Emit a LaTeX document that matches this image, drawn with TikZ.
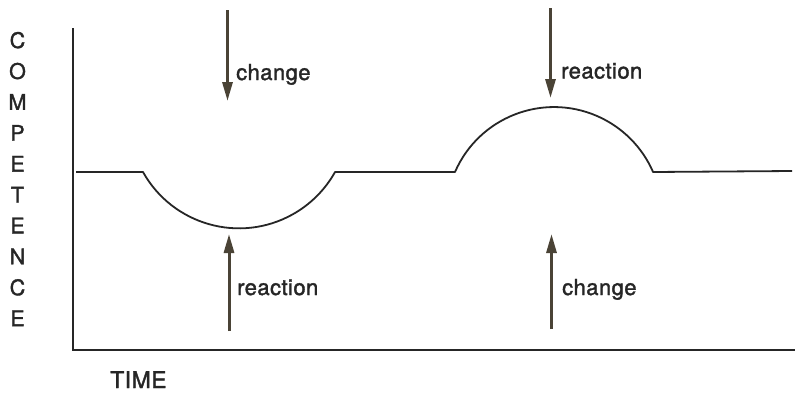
\documentclass[tikz,border=0pt]{standalone}
\usepackage{fontspec}
\setmainfont{TeX Gyre Heros}[FakeBold=1.6, LetterSpace=2]
\usetikzlibrary{arrows.meta}
\definecolor{ink}{HTML}{262626}
\definecolor{arrowink}{HTML}{4A4336}
\tikzset{
  axisline/.style={draw=ink, line width=2pt},
  curveline/.style={draw=ink, line width=1.8pt},
  force/.style={draw=arrowink, line width=3pt,
    -{Triangle[length=19pt, width=10pt]}},
  label/.style={anchor=base west, inner sep=0pt, text=ink, font=\fontsize{22}{24}\selectfont},
  letter/.style={anchor=base, inner sep=0pt, text=ink, font=\fontsize{21.5}{24}\selectfont},
}
\begin{document}
\begin{tikzpicture}[x=1pt, y=-1pt]
  \useasboundingbox (0,0) rectangle (795,405);
  \fill[white] (0,0) rectangle (795,405);

  % axes
  \coordinate (ytop) at (72.5,28);
  \coordinate (origin) at (72.5,350);
  \coordinate (xend) at (795,350);
  \draw[axisline] (ytop) -- (origin) -- (xend);

  % competence over time: a dip, then a hump
  \draw[curveline, line join=round]
    (76,172) -- (143,172)
    arc[start angle=150.8, end angle=29.2, radius=110]
    -- (455,172)
    arc[start angle=203.5, end angle=336.5, radius=108]
    -- (792,171);

  % forces acting on the curve
  \coordinate (c1s) at (227.5,10);  \coordinate (c1e) at (227.5,101);
  \coordinate (r1s) at (229,331);   \coordinate (r1e) at (229,234);
  \coordinate (r2s) at (550.5,8);   \coordinate (r2e) at (550.5,98);
  \coordinate (c2s) at (551.5,329); \coordinate (c2e) at (551.5,234);
  \draw[force] (c1s) -- (c1e);
  \draw[force] (r1s) -- (r1e);
  \draw[force] (r2s) -- (r2e);
  \draw[force] (c2s) -- (c2e);

  \node[label] (lc1) at (236,80) {change};
  \node[label] (lr1) at (237,295) {reaction};
  \node[label] (lr2) at (561,78.5) {reaction};
  \node[label] (lc2) at (562,295) {change};

  % axis titles
  \node[label, font=\fontsize{23}{26}\selectfont] (time) at (110,388) {TIME};
  \foreach \ch [count=\i from 0] in {C,O,M,P,E,T,E,N,C,E}
    \node[letter] (v\i) at (17.5,{48+30.9*\i}) {\ch};
\end{tikzpicture}
\end{document}
